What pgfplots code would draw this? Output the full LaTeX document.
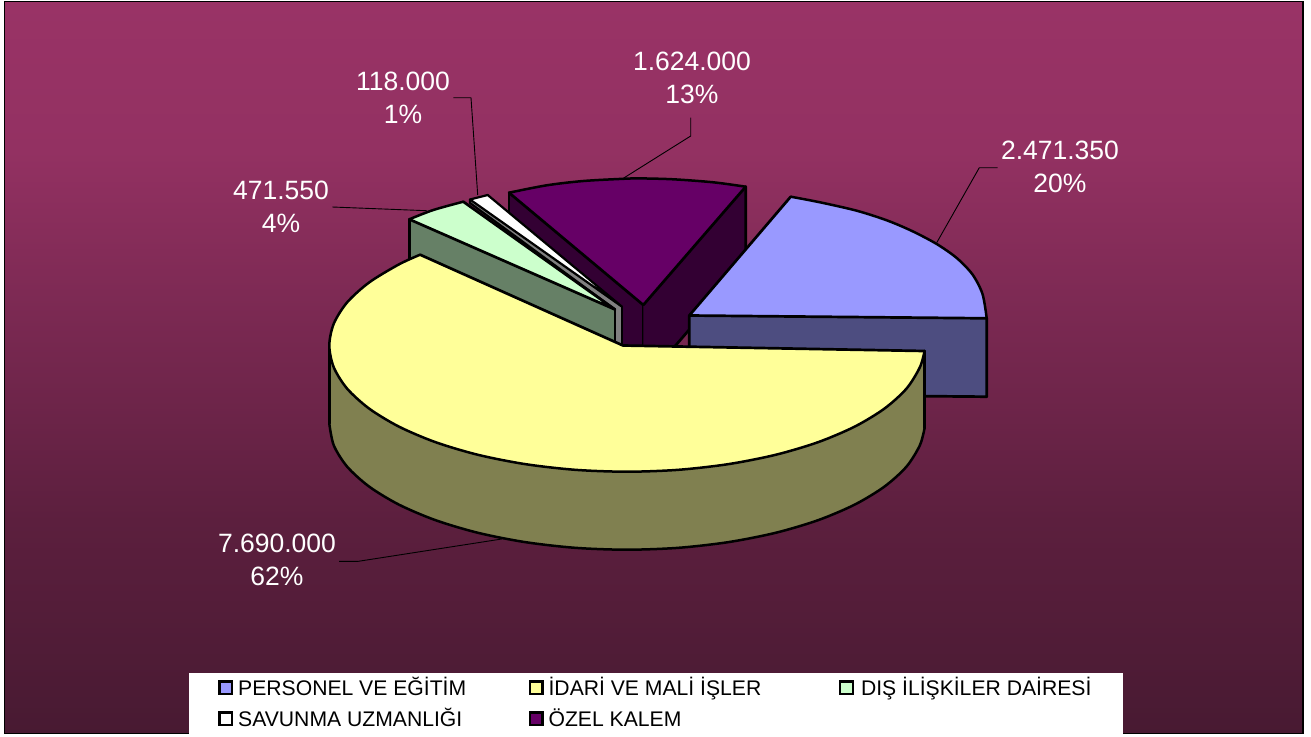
\documentclass[border=0pt]{standalone}
\usepackage{pgfplots}
\pgfplotsset{compat=1.18}
\usepackage{fontspec}
\setmainfont{Liberation Sans}
\definecolor{bga}{HTML}{481A32}
\definecolor{bgb}{HTML}{5C1F3E}
\definecolor{bgc}{HTML}{933162}
\definecolor{bgd}{HTML}{993366}
\definecolor{cpers}{HTML}{9999FF}
\definecolor{cpersw}{HTML}{4D4D80}
\definecolor{cidari}{HTML}{FFFF99}
\definecolor{cidariw}{HTML}{808050}
\definecolor{cdis}{HTML}{CCFFCC}
\definecolor{cdisw}{HTML}{668066}
\definecolor{cozel}{HTML}{660066}
\definecolor{cozelw}{HTML}{330033}
\pgfdeclareverticalshading{bgs}{100bp}{
  color(0bp)=(bga);
  color(25bp)=(bga);
  color(39.5bp)=(bgb);
  color(64.8bp)=(bgc);
  color(75bp)=(bgd);
  color(100bp)=(bgd)}
\pgfplotsset{
  face/.style={forget plot, draw=none, fill=#1, mark=none},
  edge/.style={forget plot, draw=black, line width=2.7bp, line cap=round, line join=round, mark=none, sharp plot},
  arc/.style={forget plot, draw=black, line width=2.5bp, line cap=round, line join=round, mark=none, smooth},
  leader/.style={forget plot, draw=black, line width=0.9bp, mark=none, sharp plot},
}
\begin{document}
\begin{tikzpicture}
\begin{axis}[
  hide axis, scale only axis, width=1311bp, height=736bp,
  xmin=0, xmax=1311, ymin=0, ymax=736, y dir=reverse,
  legend columns=3,
  legend cell align=left,
  legend image code/.code={\draw[#1, draw=black, line width=2.4bp] (0bp,-6.3bp) rectangle (12.6bp,6.3bp);},
  legend style={at={(axis cs:189,673)}, anchor=north west, draw=none, fill=white,
    inner xsep=29bp, inner ysep=0bp, font=\fontsize{21.15bp}{25bp}\selectfont,
    row sep=1.7bp, nodes={inner sep=0bp, text depth=7.3bp}},
]
% picture extent
\path (axis cs:0,0) rectangle (axis cs:1311,736);
% background
\path[shading=bgs] (axis cs:4.5,1.5) rectangle (axis cs:1303,733.5);
\draw[black, line width=1.6bp] (axis cs:4.5,1.5) rectangle (axis cs:1303,733.5);

% OZEL KALEM walls and top
\addplot[face=cozelw] coordinates {(509,192.7) (509,271) (643.3,383) (643.3,305)} -- cycle;
\addplot[edge] coordinates {(509,192.7) (509,271)};
\addplot[edge] coordinates {(643.3,305) (643.3,383)};
\addplot[face=cozelw] coordinates {(643.3,305) (745.7,186.7) (745.7,264) (643.3,383)} -- cycle;
\addplot[edge] coordinates {(745.7,186.7) (745.7,264) (643.3,383)};
\addplot[face=cozel] coordinates {(509,192.7) (546.7,185.3) (583.3,181) (623.3,178.8) (640,178.4) (673.3,179.3) (713.3,182.3) (745.7,186.7) (643.3,305)} -- cycle;
\addplot[arc] coordinates {(509,192.7) (546.7,185.3) (583.3,181) (623.3,178.8) (640,178.4) (673.3,179.3) (713.3,182.3) (745.7,186.7)};
\addplot[edge] coordinates {(745.7,186.7) (643.3,305) (509,192.7)};

% PERSONEL wall and top
\addplot[face=cpersw] coordinates {(689.3,315.5) (986.7,318.3) (986.7,396.7) (689.3,394)} -- cycle;
\addplot[edge] coordinates {(689.3,315.5) (689.3,394) (986.7,396.7) (986.7,318.3)};
\addplot[face=cpers] coordinates {(790.7,196.7) (820,202.3) (856.7,210.7) (886.7,220.3) (912,231) (936.7,244) (956.7,258) (972.5,274.5) (982.5,294) (986.7,318.3) (689.3,315.5)} -- cycle;
\addplot[arc] coordinates {(790.7,196.7) (820,202.3) (856.7,210.7) (886.7,220.3) (912,231) (936.7,244) (956.7,258) (972.5,274.5) (982.5,294) (986.7,318.3)};
\addplot[edge] coordinates {(790.7,196.7) (689.3,315.5) (986.7,318.3)};

% SAVUNMA wall and top
\addplot[face=gray] coordinates {(470,199.5) (470,203) (615,309.5) (615,345) (622,345) (622,306.7)} -- cycle;
\addplot[edge, line width=2.2bp] coordinates {(470,199.5) (470,203) (615,309.5)};
\addplot[edge, line width=2.2bp] coordinates {(622,306.7) (622,346)};
\addplot[face=white] coordinates {(470,199.5) (487.7,195) (622,306.7)} -- cycle;
\addplot[edge, line width=2.2bp] coordinates {(470,199.5) (487.7,195) (622,306.7) (470,199.5)};

% DIS ILISKILER wall and top
\addplot[face=cdisw] coordinates {(409.3,219.3) (409.3,296) (615,386) (615,309.5)} -- cycle;
\addplot[edge] coordinates {(409.3,219.3) (409.3,296)};
\addplot[edge] coordinates {(615,309.5) (615,386)};
\addplot[face=cdis] coordinates {(409.3,219.3) (433.3,210) (463.3,201.7) (615,309.5)} -- cycle;
\addplot[arc] coordinates {(409.3,219.3) (433.3,210) (463.3,201.7)};
\addplot[edge] coordinates {(463.3,201.7) (615,309.5) (409.3,219.3)};

% IDARI wall and top
\addplot[face=cidariw] coordinates {(329.3,345.5) (333.8,367.4) (347.2,388.7) (369.2,408.6) (398.9,426.6) (435.6,442.2) (478,454.8) (525.1,464.1) (575.2,469.8) (626.8,471.7) (678.4,469.8) (728.5,464.1) (775.6,454.8) (818,442.2) (854.7,426.6) (884.4,408.6) (906.4,388.7) (919.8,367.4) (924.6,351) (924.6,428) (919.8,445.4) (906.4,466.7) (884.4,486.6) (854.7,504.6) (818,520.2) (775.6,532.8) (728.5,542.1) (678.4,547.8) (626.8,549.7) (575.2,547.8) (525.1,542.1) (478,532.8) (435.6,520.2) (398.9,504.6) (369.2,486.6) (347.2,466.7) (333.8,445.4) (329.3,423.5)} -- cycle;
\addplot[edge] coordinates {(329.3,345.5) (329.3,423.5)};
\addplot[edge] coordinates {(924.6,351) (924.6,428)};
\addplot[arc] coordinates {(924.6,428) (919.8,445.4) (906.4,466.7) (884.4,486.6) (854.7,504.6) (818,520.2) (775.6,532.8) (728.5,542.1) (678.4,547.8) (626.8,549.7) (575.2,547.8) (525.1,542.1) (478,532.8) (435.6,520.2) (398.9,504.6) (369.2,486.6) (347.2,466.7) (333.8,445.4) (329.3,423.5)};
\addplot[face=cidari] coordinates {(420.1,254.7) (398.9,264.4) (369.2,282.4) (347.2,302.3) (333.8,323.6) (329.3,345.5) (333.8,367.4) (347.2,388.7) (369.2,408.6) (398.9,426.6) (435.6,442.2) (478,454.8) (525.1,464.1) (575.2,469.8) (626.8,471.7) (678.4,469.8) (728.5,464.1) (775.6,454.8) (818,442.2) (854.7,426.6) (884.4,408.6) (906.4,388.7) (919.8,367.4) (924.6,351) (623,345.5)} -- cycle;
\addplot[arc] coordinates {(420.1,254.7) (398.9,264.4) (369.2,282.4) (347.2,302.3) (333.8,323.6) (329.3,345.5) (333.8,367.4) (347.2,388.7) (369.2,408.6) (398.9,426.6) (435.6,442.2) (478,454.8) (525.1,464.1) (575.2,469.8) (626.8,471.7) (678.4,469.8) (728.5,464.1) (775.6,454.8) (818,442.2) (854.7,426.6) (884.4,408.6) (906.4,388.7) (919.8,367.4) (924.6,351)};
\addplot[edge] coordinates {(420.1,254.7) (623,345.5) (924.6,351)};

% leader lines
\addplot[leader] coordinates {(453.3,97.7) (471,97.7) (477.7,195)};
\addplot[leader] coordinates {(332.3,207) (426.7,210.7)};
\addplot[leader] coordinates {(339,561.3) (358.3,561.3) (501.7,539)};
\addplot[leader] coordinates {(690.7,117.7) (690.7,136) (623.3,178.3)};
\addplot[leader] coordinates {(997.7,167.7) (979.3,167.7) (936.7,242.7)};

% data labels
\tikzset{dl/.style={text=white, align=center, inner sep=0pt, font=\fontsize{26.5bp}{33bp}\selectfont}}
\node[dl] at (axis cs:277,560) {7.690.000\\62\%};
\node[dl] at (axis cs:281,207) {471.550\\4\%};
\node[dl] at (axis cs:403,98) {118.000\\1\%};
\node[dl] at (axis cs:692,78) {1.624.000\\13\%};
\node[dl] at (axis cs:1060,167) {2.471.350\\20\%};

% legend
\addlegendimage{fill=cpers}
\addlegendentry{\hspace{5bp}\makebox[290.4bp][l]{\rule{0pt}{22bp}PERSONEL VE EĞİTİM}}
\addlegendimage{fill=cidari}
\addlegendentry{\hspace{5bp}\makebox[290.4bp][l]{\rule{0pt}{22bp}İDARİ VE MALİ İŞLER}}
\addlegendimage{fill=cdis}
\addlegendentry{\hspace{7bp}\makebox[233bp][l]{\rule{0pt}{22bp}DIŞ İLİŞKİLER DAİRESİ}}
\addlegendimage{fill=white}
\addlegendentry{\hspace{5bp}\makebox[290.4bp][l]{\rule{0pt}{22bp}SAVUNMA UZMANLIĞI}}
\addlegendimage{fill=cozel}
\addlegendentry{\hspace{5bp}\makebox[290.4bp][l]{\rule{0pt}{22bp}ÖZEL KALEM}}
\end{axis}
\end{tikzpicture}
\end{document}
